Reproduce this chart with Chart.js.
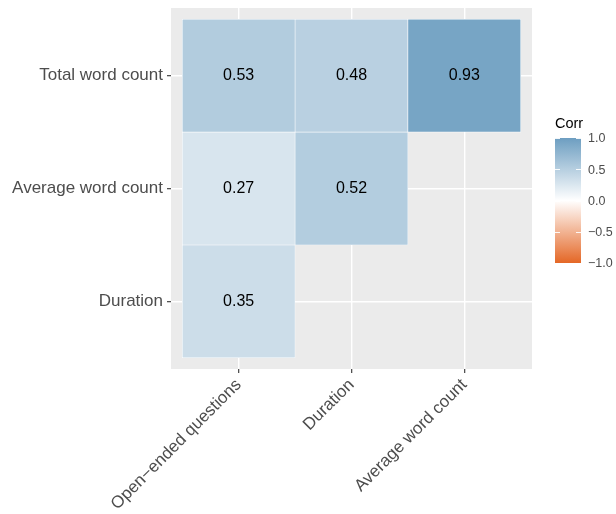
<!DOCTYPE html>
<html>
<head>
<meta charset="utf-8">
<script src="https://cdn.jsdelivr.net/npm/chart.js@4.4.1/dist/chart.umd.min.js"></script>
<style>
  html, body { margin: 0; padding: 0; background: #fff; }
  canvas { display: block; }
</style>
</head>
<body>
<canvas id="corrChart" width="616" height="514"></canvas>
<script>
// columns left to right, rows bottom to top
const xLabels = ["Open\u2212ended questions", "Duration", "Average word count"];
const yLabels = ["Duration", "Average word count", "Total word count"];
const durationRow = [0.35];
const averageWordCountRow = [0.27, 0.52];
const totalWordCountRow = [0.53, 0.48, 0.93];
const legendTicks = [1.0, 0.5, 0.0, -0.5, -1.0];

const HIGH = [109, 158, 193];  // #6D9EC1
const LOW  = [228, 103, 38];   // #E46726
const FONT = "'Liberation Sans', Arial, sans-serif";

function corrColor(v) {
  const t = Math.min(1, Math.abs(v)), end = v >= 0 ? HIGH : LOW;
  return "rgb(" + end.map(e => Math.round(255 + (e - 255) * t)).join(",") + ")";
}

function fmt(v) {
  return (v < 0 ? "\u2212" : "") + Math.abs(v).toFixed(1);
}

const cells = [];
[durationRow, averageWordCountRow, totalWordCountRow].forEach((vals, r) => {
  vals.forEach((v, c) => cells.push({ x: c + 1, y: [r + 0.5, r + 1.5], v: v }));
});

const panelBg = {
  id: "panelBg",
  beforeDraw(chart) {
    const { ctx, chartArea: a } = chart;
    ctx.save();
    ctx.fillStyle = "#EBEBEB";
    ctx.fillRect(a.left, a.top, a.right - a.left, a.bottom - a.top);
    ctx.restore();
  }
};

const valueLabels = {
  id: "valueLabels",
  afterDatasetsDraw(chart) {
    const { ctx } = chart;
    const meta = chart.getDatasetMeta(0);
    ctx.save();
    ctx.font = "16px " + FONT;
    ctx.fillStyle = "#000";
    ctx.textAlign = "center";
    ctx.textBaseline = "middle";
    meta.data.forEach((el, i) => {
      const p = el.getProps(["x", "y", "base"], true);
      ctx.fillText(cells[i].v.toFixed(2), p.x, (p.y + p.base) / 2);
    });
    ctx.restore();
  }
};

const colorBar = {
  id: "colorBar",
  afterDraw(chart) {
    const { ctx, chartArea: a } = chart;
    const x0 = a.right + 23, w = 26, top = 138, bottom = 263;
    const yOf = v => top + (1 - v) / 2 * (bottom - top);

    ctx.save();
    ctx.font = "14.5px " + FONT;
    ctx.fillStyle = "#000";
    ctx.textAlign = "left";
    ctx.textBaseline = "alphabetic";
    ctx.fillText("Corr", x0, 128);

    const g = ctx.createLinearGradient(0, top, 0, bottom);
    g.addColorStop(0, corrColor(1));
    g.addColorStop(0.5, "#ffffff");
    g.addColorStop(1, corrColor(-1));
    ctx.fillStyle = g;
    ctx.fillRect(x0, top, w, bottom - top);

    ctx.strokeStyle = "rgba(255,255,255,0.9)";
    ctx.lineWidth = 1;
    ctx.font = "12.5px " + FONT;
    ctx.fillStyle = "#4D4D4D";
    ctx.textBaseline = "middle";
    legendTicks.forEach(v => {
      const y = Math.round(yOf(v)) + 0.5;
      ctx.beginPath();
      ctx.moveTo(x0, y); ctx.lineTo(x0 + 5, y);
      ctx.moveTo(x0 + w - 5, y); ctx.lineTo(x0 + w, y);
      ctx.stroke();
      ctx.fillText(fmt(v), x0 + w + 7, yOf(v) + 1);
    });
    ctx.restore();
  }
};

const gridOpts = {
  color: "#ffffff",
  lineWidth: 1.4,
  offset: false,
  tickColor: "#333333",
  tickLength: 4,
  tickWidth: 1.1
};

new Chart(document.getElementById("corrChart"), {
  type: "bar",
  data: {
    datasets: [{
      data: cells,
      backgroundColor: ctx => corrColor(ctx.raw ? ctx.raw.v : 0),
      borderColor: "#ffffff",
      borderWidth: 0.6,
      borderSkipped: false,
      barPercentage: 1,
      categoryPercentage: 1
    }]
  },
  options: {
    responsive: false,
    animation: false,
    layout: { padding: { top: 8, right: 84, left: 0, bottom: 0 } },
    plugins: {
      legend: { display: false },
      tooltip: { enabled: false }
    },
    scales: {
      x: {
        type: "linear",
        min: 0.4, max: 3.6,
        offset: false,
        afterBuildTicks: s => { s.ticks = xLabels.map((_, i) => ({ value: i + 1 })); },
        afterFit: s => { s.height = 145; s.paddingLeft = 0; s.paddingRight = 0; },
        ticks: {
          autoSkip: false,
          minRotation: 45, maxRotation: 45,
          padding: 2,
          color: "#4D4D4D",
          font: { family: FONT, size: 17 },
          callback: v => xLabels[Math.round(v) - 1]
        },
        grid: gridOpts,
        border: { display: false }
      },
      y: {
        type: "linear",
        min: 0.4, max: 3.6,
        beginAtZero: false,
        afterBuildTicks: s => { s.ticks = yLabels.map((_, i) => ({ value: i + 1 })); },
        afterFit: s => { s.width = 171; s.paddingTop = 0; s.paddingBottom = 0; },
        ticks: {
          padding: 4,
          color: "#4D4D4D",
          font: { family: FONT, size: 17 },
          callback: v => yLabels[Math.round(v) - 1]
        },
        grid: gridOpts,
        border: { display: false }
      }
    }
  },
  plugins: [panelBg, valueLabels, colorBar]
});
</script>
</body>
</html>
